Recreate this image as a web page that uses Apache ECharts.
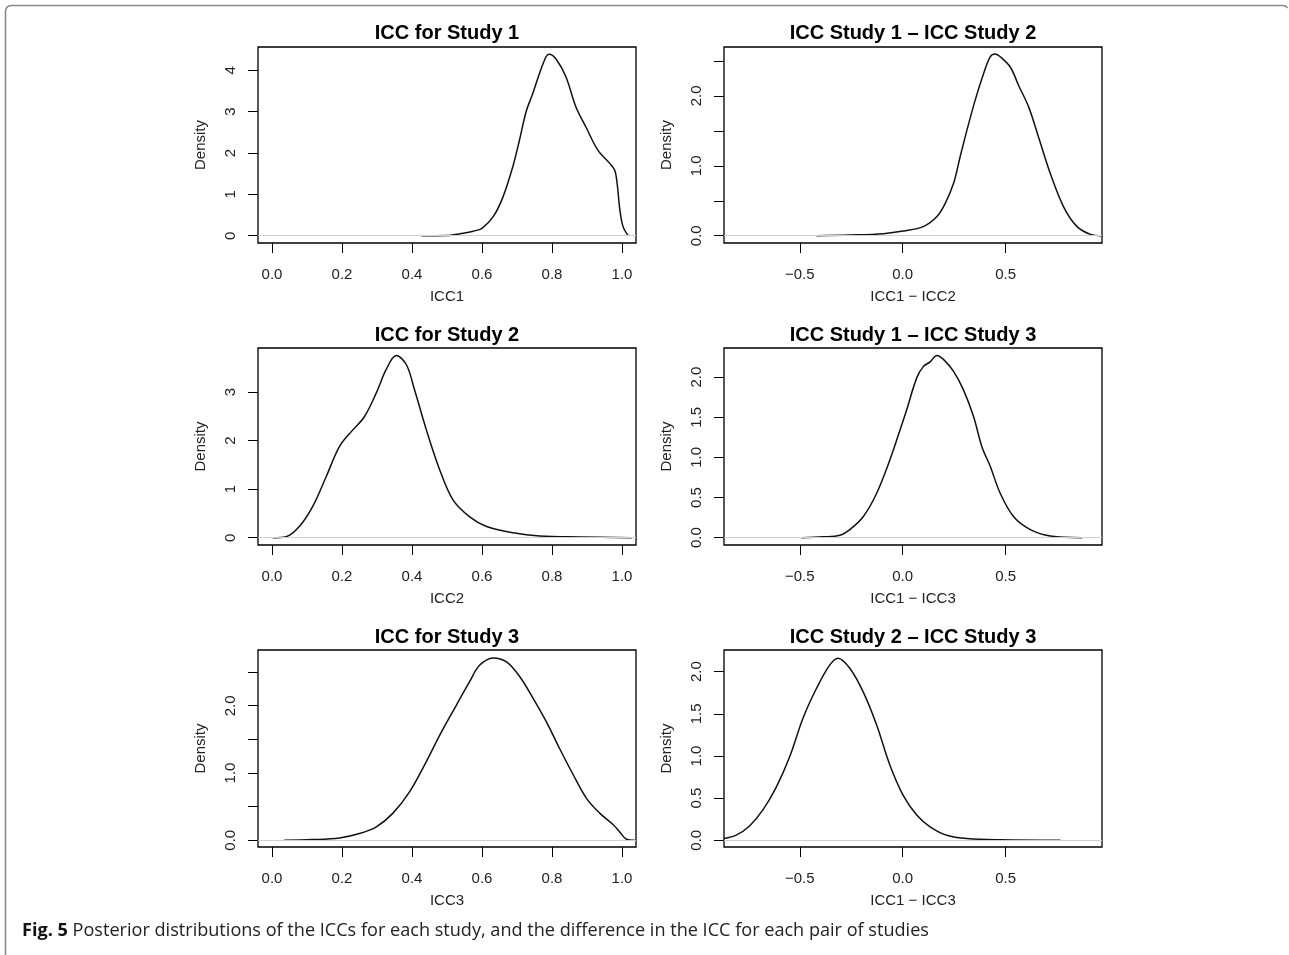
<!DOCTYPE html>
<html><head><meta charset="utf-8">
<script src="https://cdn.jsdelivr.net/npm/echarts@6/dist/echarts.min.js"></script>
<style>html,body{margin:0;padding:0;background:#fff}#c{width:1289px;height:955px}</style>
</head><body><div id="c"></div>
<script>
// ---- data ----
const panelTitles = ['ICC for Study 1', 'ICC Study 1 \u2013 ICC Study 2', 'ICC for Study 2', 'ICC Study 1 \u2013 ICC Study 3', 'ICC for Study 3', 'ICC Study 2 \u2013 ICC Study 3'];
const xAxisNames = ['ICC1', 'ICC1 \u2212 ICC2', 'ICC2', 'ICC1 \u2212 ICC3', 'ICC3', 'ICC1 \u2212 ICC3'];
const yAxisName = 'Density';
const caption = 'Posterior distributions of the ICCs for each study, and the difference in the ICC for each pair of studies';
const captionLabel = 'Fig. 5';

const iccTicksX = [0, 0.2, 0.4, 0.6, 0.8, 1.0];
const diffTicksX = [-0.5, 0, 0.5];

const icc1X = [0.427, 0.5, 0.546, 0.575, 0.60, 0.632, 0.66, 0.688, 0.707, 0.726, 0.745, 0.764, 0.783, 0.792, 0.811, 0.84, 0.868, 0.897, 0.931, 0.965, 0.979, 0.986, 0.994, 1.003, 1.018];
const icc1Y = [0, 0.005, 0.06, 0.11, 0.18, 0.46, 0.94, 1.67, 2.31, 3.0, 3.44, 3.92, 4.33, 4.39, 4.28, 3.84, 3.12, 2.63, 2.07, 1.75, 1.59, 1.27, 0.62, 0.22, 0];

const d12X = [-0.419, -0.257, -0.094, 0.003, 0.1, 0.165, 0.206, 0.247, 0.279, 0.312, 0.352, 0.393, 0.425, 0.45, 0.474, 0.523, 0.563, 0.612, 0.66, 0.717, 0.782, 0.847, 0.912, 0.969];
const d12Y = [0, 0.01, 0.03, 0.067, 0.13, 0.27, 0.46, 0.75, 1.13, 1.51, 1.94, 2.32, 2.56, 2.6, 2.56, 2.41, 2.15, 1.84, 1.41, 0.89, 0.41, 0.13, 0.02, 0];

const icc2X = [0.002, 0.04, 0.078, 0.116, 0.155, 0.193, 0.231, 0.264, 0.298, 0.326, 0.355, 0.384, 0.407, 0.441, 0.479, 0.517, 0.565, 0.613, 0.689, 0.765, 0.88, 1.028];
const icc2Y = [0, 0.02, 0.23, 0.64, 1.26, 1.88, 2.22, 2.49, 2.98, 3.46, 3.75, 3.56, 3.05, 2.22, 1.40, 0.78, 0.43, 0.23, 0.10, 0.035, 0.015, 0];

const d13X = [-0.492, -0.387, -0.305, -0.257, -0.192, -0.127, -0.062, -0.013, 0.019, 0.068, 0.1, 0.133, 0.166, 0.198, 0.247, 0.295, 0.344, 0.385, 0.425, 0.474, 0.539, 0.62, 0.717, 0.872];
const d13Y = [0, 0.01, 0.03, 0.1, 0.26, 0.55, 0.97, 1.34, 1.59, 1.99, 2.13, 2.19, 2.27, 2.22, 2.07, 1.84, 1.51, 1.13, 0.89, 0.55, 0.26, 0.1, 0.02, 0];

const icc3X = [0.035, 0.116, 0.193, 0.25, 0.298, 0.345, 0.393, 0.441, 0.479, 0.527, 0.565, 0.593, 0.632, 0.67, 0.708, 0.746, 0.784, 0.822, 0.861, 0.899, 0.937, 0.975, 0.994, 1.013, 1.037];
const icc3Y = [0, 0.01, 0.035, 0.1, 0.2, 0.4, 0.72, 1.17, 1.56, 2.01, 2.36, 2.60, 2.71, 2.65, 2.43, 2.11, 1.76, 1.36, 0.97, 0.62, 0.40, 0.23, 0.12, 0.015, 0];

const d23X = [-0.868, -0.809, -0.744, -0.679, -0.614, -0.549, -0.484, -0.419, -0.354, -0.314, -0.257, -0.192, -0.127, -0.062, 0.003, 0.068, 0.133, 0.214, 0.312, 0.474, 0.766];
const d23Y = [0.02, 0.06, 0.17, 0.36, 0.63, 0.99, 1.45, 1.80, 2.08, 2.16, 2.04, 1.76, 1.37, 0.89, 0.53, 0.30, 0.16, 0.06, 0.02, 0.005, 0];

const yTicks1 = [0, 1, 2, 3, 4];
const yTicks2 = [0, 0.5, 1, 1.5, 2, 2.5];
const yLabels2 = [0, 1, 2];
const yTicks3 = [0, 1, 2, 3];
const yTicks4 = [0, 0.5, 1, 1.5, 2];
const yTicks5 = [0, 0.5, 1, 1.5, 2, 2.5];
const yLabels5 = [0, 1, 2];
const yTicks6 = [0, 0.5, 1, 1.5, 2];

// ---- layout ----
const FONT = 'Liberation Sans, Arial, Helvetica, sans-serif';
const colLeft = [258, 724];
const rowTop = [47, 348, 650];
const boxW = 378;
const rowH = [196, 197, 197];
const titleTop = [23, 325, 627];

const panels = [
  {xs: icc1X, ys: icc1Y, xr: [-0.04, 1.04], xt: iccTicksX, yr: [-0.176, 4.565], yt: yTicks1, yl: yTicks1, dec: 0},
  {xs: d12X, ys: d12Y, xr: [-0.868, 0.968], xt: diffTicksX, yr: [-0.104, 2.70], yt: yTicks2, yl: yLabels2, dec: 1},
  {xs: icc2X, ys: icc2Y, xr: [-0.04, 1.04], xt: iccTicksX, yr: [-0.15, 3.905], yt: yTicks3, yl: yTicks3, dec: 0},
  {xs: d13X, ys: d13Y, xr: [-0.868, 0.968], xt: diffTicksX, yr: [-0.0915, 2.362], yt: yTicks4, yl: yTicks4, dec: 1},
  {xs: icc3X, ys: icc3Y, xr: [-0.04, 1.04], xt: iccTicksX, yr: [-0.10, 2.828], yt: yTicks5, yl: yLabels5, dec: 1},
  {xs: d23X, ys: d23Y, xr: [-0.868, 0.968], xt: diffTicksX, yr: [-0.08, 2.257], yt: yTicks6, yl: yTicks6, dec: 1}
];

function fmt(v, dec) {
  const s = Number(v).toFixed(dec);
  return s.charAt(0) === '-' ? '\u2212' + s.slice(1) : s;
}

const grids = [], xAxes = [], yAxes = [], series = [], titles = [];
panels.forEach((p, i) => {
  const col = i % 2, row = Math.floor(i / 2);
  grids.push({left: colLeft[col], top: rowTop[row], width: boxW, height: rowH[row],
    show: true, borderColor: '#000', borderWidth: 1.3, backgroundColor: 'transparent', containLabel: false});
  titles.push({text: panelTitles[i], left: colLeft[col] + boxW / 2, top: titleTop[row], textAlign: 'center', padding: 0,
    textStyle: {fontFamily: FONT, fontWeight: 'bold', fontSize: 20, color: '#000'}});
  xAxes.push({type: 'value', gridIndex: i, min: p.xr[0], max: p.xr[1], position: 'bottom',
    name: xAxisNames[i], nameLocation: 'middle', nameGap: 46,
    nameTextStyle: {fontFamily: FONT, fontSize: 15, color: '#222'},
    axisLine: {show: false, onZero: false}, splitLine: {show: false},
    axisTick: {show: true, inside: false, length: 10, customValues: p.xt, lineStyle: {color: '#000', width: 1}},
    axisLabel: {show: true, margin: 24, customValues: p.xt, fontFamily: FONT, fontSize: 15, color: '#222',
      formatter: v => fmt(v, 1), showMinLabel: true, showMaxLabel: true, hideOverlap: false}
  });
  yAxes.push({type: 'value', gridIndex: i, min: p.yr[0], max: p.yr[1], position: 'left',
    name: yAxisName, nameLocation: 'middle', nameGap: 50,
    nameTextStyle: {fontFamily: FONT, fontSize: 15, color: '#222'},
    axisLine: {show: false, onZero: false}, splitLine: {show: false},
    axisTick: {show: true, inside: false, length: 10, customValues: p.yt, lineStyle: {color: '#000', width: 1}},
    axisLabel: {show: true, rotate: 90, margin: 20, customValues: p.yl, fontFamily: FONT, fontSize: 15, color: '#222',
      formatter: v => fmt(v, p.dec), showMinLabel: true, showMaxLabel: true, hideOverlap: false}
  });
  series.push({type: 'line', xAxisIndex: i, yAxisIndex: i,
    data: p.xs.map((x, k) => [x, p.ys[k]]),
    showSymbol: false, smooth: 0.35, clip: true,
    lineStyle: {color: '#111', width: 1.5},
    markLine: {silent: true, symbol: ['none', 'none'], animation: false,
      label: {show: false}, lineStyle: {color: '#cfcfcf', type: 'solid', width: 1.2},
      data: [{yAxis: 0}]}
  });
});

const chart = echarts.init(document.getElementById('c'), null, {renderer: 'canvas'});
chart.setOption({
  animation: false,
  backgroundColor: '#fff',
  title: titles,
  grid: grids,
  xAxis: xAxes,
  yAxis: yAxes,
  series: series,
  graphic: [
    {type: 'polyline', silent: true,
      shape: {points: [[5.5, 955], [5.5, 11], [6.3, 8.2], [8.2, 6.3], [11, 5.5], [1283, 5.5], [1286, 6.2], [1287.5, 8]]},
      style: {stroke: '#8a8a8a', lineWidth: 1.6, fill: null}},
    {type: 'text', silent: true, x: 22, y: 931,
      style: {text: '{b|' + captionLabel + '} ' + caption, verticalAlign: 'middle', align: 'left',
        fontFamily: 'Open Sans, Noto Sans, sans-serif', fontSize: 18.1, fill: '#222',
        rich: {b: {fontFamily: 'Open Sans, Noto Sans, sans-serif', fontWeight: 'bold', fontSize: 18.1, fill: '#111'}}}}
  ]
});
</script></body></html>
